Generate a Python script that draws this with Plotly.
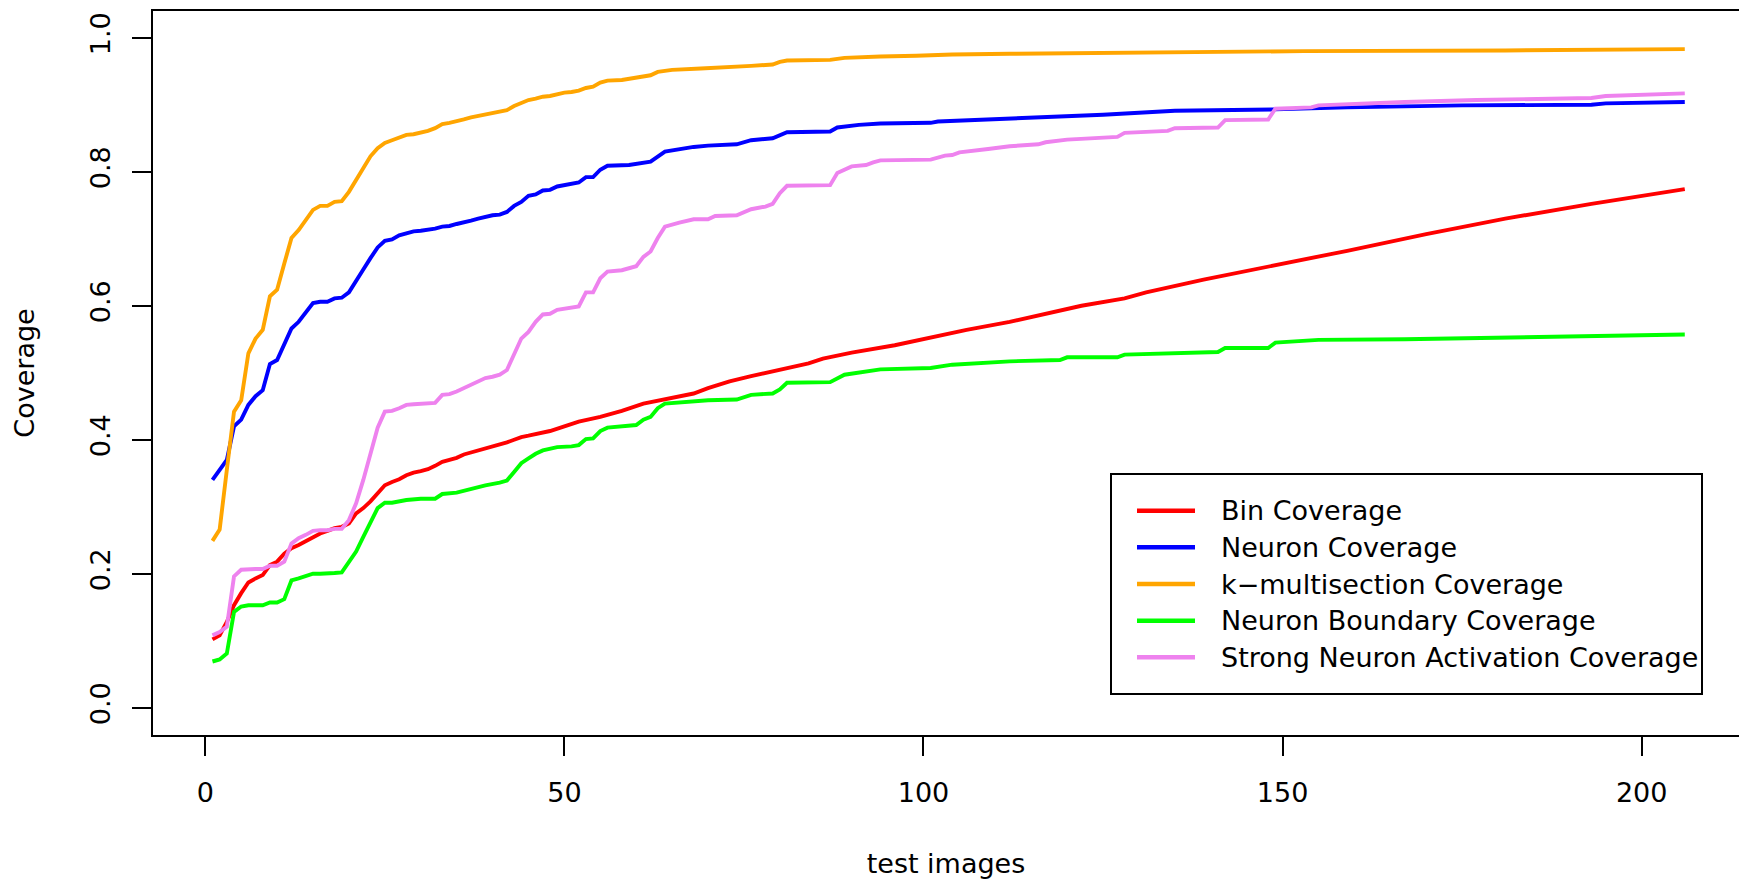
import plotly.graph_objects as go

# ---------------- data ----------------
bin_x = list(range(1, 49)) + [50, 52, 55, 58, 61, 64, 68, 70, 73, 76, 80, 84, 86, 90, 96, 101,
                             106, 112, 117, 122, 128, 131, 139, 148, 159, 170, 181, 193, 206]
bin_y = [.102, .108, .128, .153, .171, .187, .193, .198, .213, .218,
         .230, .238, .243, .249, .254, .260, .264, .268, .270, .275,
         .290, .298, .308, .320, .332, .337, .341, .347, .351, .353,
         .356, .361, .367, .370, .373, .378, .381, .384, .387, .390,
         .392, .396, .400, .404, .406, .408, .411, .413,
         .420, .427, .434, .443, .454, .460, .469, .477, .487, .495,
         .505, .514, .521, .530, .541, .553, .564, .576, .588, .600,
         .611, .620, .639, .658, .682, .707, .730, .752, .774]

neuron_x = list(range(1, 57)) + [59, 61, 62, 64, 66, 68, 70, 74, 76, 79, 81, 87, 88, 91, 94, 101,
                                102, 112, 120, 125, 135, 149, 159, 175, 193, 195, 206]
neuron_y = [.340, .355, .370, .420, .430, .452, .465, .474, .513, .519,
            .544, .566, .576, .589, .604, .606, .606, .611, .612, .620,
            .638, .654, .671, .687, .697, .699, .705, .708, .711, .712,
            .713, .715, .718, .719, .722, .724, .727, .730, .733, .735,
            .736, .740, .749, .755, .764, .766, .772, .773, .778, .780,
            .782, .784, .792, .792, .803, .809,
            .810, .813, .815, .830, .834, .837, .839, .841, .847, .850,
            .859, .860, .866, .870, .872, .873, .875, .879, .882, .885,
            .891, .893, .896, .899, .900, .902, .904]

kmulti_x = list(range(1, 56)) + [56, 58, 60, 62, 63, 65, 69, 74, 76, 79, 80, 81, 87, 89, 91, 94,
                                99, 104, 112, 120, 131, 153, 181, 206]
kmulti_y = [.249, .266, .355, .442, .459, .529, .551, .564, .614, .624,
            .663, .701, .713, .728, .743, .749, .749, .755, .756, .770,
            .788, .805, .823, .835, .843, .847, .851, .855, .856, .858,
            .861, .865, .871, .873, .875, .878, .881, .883, .886, .887,
            .889, .892, .898, .903, .907, .909, .912, .913, .916, .918,
            .919, .921, .925, .927, .933,
            .936, .937, .941, .944, .949, .952, .954, .956, .958, .960,
            .964, .966, .967, .970, .971, .972, .973, .975, .976, .977,
            .978, .980, .981, .983]

nbc_x = list(range(1, 26)) + [26, 28, 30, 32, 33, 35, 37, 39, 41, 42,
                             43, 44, 45, 46, 47, 48, 49, 51, 52, 53,
                             54, 55, 56, 60, 61, 62, 63, 64, 67, 70,
                             74, 76, 79, 80, 81, 87, 89, 91, 94, 101,
                             104, 112, 119, 120, 127, 128, 135, 141, 142, 148,
                             149, 155, 167, 178, 193, 206]
nbc_y = [.069, .072, .081, .143, .151, .153, .153, .153, .157, .157,
         .162, .190, .193, .196, .200, .200, .200, .201, .202, .218,
         .233, .255, .275, .298, .306,
         .306, .310, .312, .312, .319, .321, .327, .332, .336, .339,
         .352, .365, .372, .379, .384, .386, .389, .390, .392, .401,
         .402, .413, .418, .422, .430, .434, .447, .454, .457, .459,
         .460, .467, .469, .475, .485, .486, .497, .500, .505, .507,
         .512, .517, .519, .523, .523, .527, .529, .531, .537, .537,
         .545, .549, .550, .552, .554, .557]

snac_x = list(range(1, 56)) + [56, 58, 60, 61, 62, 63, 64, 66, 68, 70,
                              71, 74, 76, 78, 79, 80, 81, 87, 88, 90,
                              92, 93, 94, 101, 103, 104, 105, 109, 112, 116,
                              117, 120, 127, 128, 134, 135, 141, 142, 148, 149,
                              154, 155, 159, 167, 177, 193, 195, 206]
snac_y = [.108, .113, .121, .196, .206, .207, .207, .207, .212, .212,
          .218, .245, .253, .258, .264, .265, .265, .267, .267, .280,
          .305, .340, .378, .418, .442,
          .443, .447, .452, .453, .454, .454, .455, .467, .468, .472,
          .477, .483, .487, .492, .494, .497, .504, .526, .551, .561,
          .576, .587, .588, .594, .596, .598, .599, .620, .620, .641,
          .651, .653, .659, .673, .681, .701, .718, .724, .729, .729,
          .734, .735, .744, .748, .752, .768, .779, .780, .798, .808,
          .810, .814, .817, .818, .824, .825, .829, .834, .838, .841,
          .844, .848, .852, .858, .861, .865, .866, .877, .878, .894,
          .896, .899, .901, .904, .907, .910, .913, .917]

series_names = ["Bin Coverage", "Neuron Coverage", "k\u2212multisection Coverage",
                "Neuron Boundary Coverage", "Strong Neuron Activation Coverage"]
series_x = [bin_x, neuron_x, kmulti_x, nbc_x, snac_x]
series_y = [bin_y, neuron_y, kmulti_y, nbc_y, snac_y]
series_colors = ["#FF0000", "#0000FF", "#FFA500", "#00FF00", "#EE82EE"]

x_ticks = [0, 50, 100, 150, 200]
y_ticks = [0.0, 0.2, 0.4, 0.6, 0.8, 1.0]
y_tick_labels = ["0.0", "0.2", "0.4", "0.6", "0.8", "1.0"]

# ---------------- layout geometry (pixels) ----------------
W, H = 1739, 882
ML, MR, MT, MB = 153, 0, 11, 147
PW, PH = W - ML - MR, H - MT - MB
FONT = "DejaVu Sans"
FS = 27


def px2paper(px, py):
    return (px - ML) / PW, (H - MB - py) / PH


fig = go.Figure()
for name, xs, ys, col in zip(series_names, series_x, series_y, series_colors):
    fig.add_trace(go.Scatter(x=xs, y=ys, mode="lines", name=name,
                             line=dict(color=col, width=3.9), showlegend=False))

axis_common = dict(showgrid=False, zeroline=False, showline=True, linecolor="black",
                   linewidth=2, ticks="outside", ticklen=19, tickwidth=2, tickcolor="black",
                   tickfont=dict(family=FONT, size=FS, color="black"))

fig.update_xaxes(range=[-7.28, 213.55], tickvals=x_ticks, mirror=True,
                 ticklabelstandoff=14,
                 title=dict(text="test images", font=dict(family=FONT, size=FS, color="black"),
                            standoff=47),
                 **axis_common)
fig.update_yaxes(range=[-0.0407, 1.0399], tickvals=y_ticks, ticktext=y_tick_labels,
                 tickangle=-90, mirror=False, ticklabelstandoff=11,
                 title=dict(text="Coverage", font=dict(family=FONT, size=FS, color="black"),
                            standoff=43),
                 **axis_common)

# ---------------- legend (drawn manually to match the R-style box) ----------------
shapes = []
annotations = []
x0, y0 = px2paper(1111, 474)
x1, y1 = px2paper(1702, 694)
shapes.append(dict(type="rect", xref="paper", yref="paper", x0=x0, y0=y1, x1=x1, y1=y0,
                   line=dict(color="black", width=2), fillcolor="white", layer="above"))
row_y = [510.7, 547.3, 584.0, 620.7, 657.3]
for name, col, ry in zip(series_names, series_colors, row_y):
    lx0, ly = px2paper(1137, ry)
    lx1, _ = px2paper(1195, ry)
    shapes.append(dict(type="line", xref="paper", yref="paper", x0=lx0, x1=lx1, y0=ly, y1=ly,
                       line=dict(color=col, width=4.5), layer="above"))
    tx, _ = px2paper(1219, ry)
    annotations.append(dict(xref="paper", yref="paper", x=tx, y=ly, text=name, showarrow=False,
                            xanchor="left", yanchor="middle",
                            font=dict(family=FONT, size=FS, color="black")))

fig.update_layout(width=W, height=H, margin=dict(l=ML, r=MR, t=MT, b=MB, pad=0),
                  paper_bgcolor="white", plot_bgcolor="white",
                  shapes=shapes, annotations=annotations,
                  font=dict(family=FONT, size=FS, color="black"))

fig.write_html("out.html")
